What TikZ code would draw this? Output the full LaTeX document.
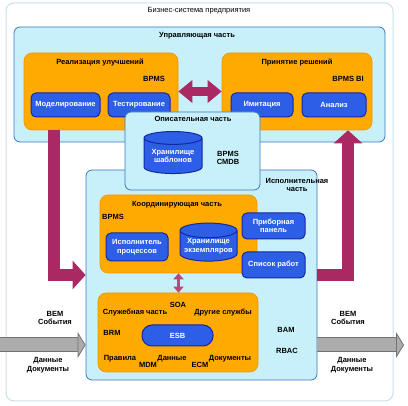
\documentclass[tikz,border=0pt]{standalone}
\usepackage{fontspec}
\setmainfont{Liberation Sans}
\usetikzlibrary{arrows.meta,shapes.geometric}

\definecolor{orng}{RGB}{255,170,0}
\definecolor{orngline}{RGB}{240,150,0}
\definecolor{cyanfill}{RGB}{200,240,250}
\definecolor{cyanline}{RGB}{60,120,190}
\definecolor{bluefill}{RGB}{45,95,230}
\definecolor{blueline}{RGB}{20,40,160}
\definecolor{plum}{RGB}{170,40,100}
\definecolor{outerline}{RGB}{200,225,235}

\begin{document}
\begin{tikzpicture}[x=1pt,y=-1pt,
    font=\fontsize{7.5}{8.5}\selectfont\bfseries,
    area/.style={draw=cyanline, fill=cyanfill, line width=0.8pt, rounded corners=6pt, inner sep=0pt},
    part/.style={draw=orngline, fill=orng, line width=0.6pt, rounded corners=8pt, inner sep=0pt},
    tool/.style={draw=blueline, fill=bluefill, line width=1pt, rounded corners=5pt, text=white, align=center, inner sep=0pt},
    store/.style={cylinder, shape border rotate=90, aspect=0.3, draw=blueline, fill=bluefill, line width=1pt, text=white, align=center, inner sep=0pt},
    flow/.style={draw=plum, line width=12pt, -{Triangle[width=28pt,length=13pt]}},
    swap/.style={draw=plum, line width=9pt, {Triangle[width=22pt,length=14pt]}-{Triangle[width=22pt,length=14pt]}},
    feed/.style={draw=gray!65, line width=13pt,
        preaction={draw=black!55, line width=15pt, shorten >=7pt, arrows=-},
        -{Triangle[width=26pt,length=8pt,color=black!55,fill=gray!65,line width=0.8pt]}},
    note/.style={align=center, inner sep=0pt}]

    \useasboundingbox (0,0) rectangle (408,406);

    % outer frame
    \node[draw=outerline, fill=white, line width=1pt, rounded corners=8pt, minimum width=387pt, minimum height=398pt] (biz) at (199.5,202) {};
    \node[note, font=\fontsize{7.5}{8.5}\selectfont] (bizt) at (199,11) {Бизнес-система предприятия};

    % control part
    \node[area, minimum width=371pt, minimum height=115pt] (ctrl) at (199.5,84.5) {};
    \node[note] (ctrlt) at (197,36) {Управляющая часть};

    \node[part, minimum width=154pt, minimum height=77pt] (impr) at (101,91.5) {};
    \node[note] (imprt) at (100,62) {Реализация улучшений};
    \node[note] (imprb) at (154,79) {BPMS};
    \node[tool, minimum width=69pt, minimum height=24pt] (model) at (65.5,105) {Моделирование};
    \node[tool, minimum width=62pt, minimum height=24pt] (test) at (139,105) {Тестирование};

    \node[part, minimum width=150pt, minimum height=77pt] (dec) at (297,91.5) {};
    \node[note] (dect) at (297,62) {Принятие решений};
    \node[note] (decb) at (348,79) {BPMS BI};
    \node[tool, minimum width=62pt, minimum height=24pt] (sim) at (262,105) {Имитация};
    \node[tool, minimum width=64pt, minimum height=24pt] (anal) at (334,105) {Анализ};

    \draw[swap] (impr.east) -- (dec.west);

    % executive part
    \node[area, minimum width=231pt, minimum height=210pt] (exec) at (201.5,275) {};
    \node[note] (exect) at (297,185) {Исполнительная\\часть};

    \node[part, minimum width=157pt, minimum height=78pt] (coord) at (178.5,234) {};
    \node[note] (coordt) at (177,205) {Координирующая часть};
    \node[note] (coordb) at (113,217) {BPMS};
    \node[tool, minimum width=62pt, minimum height=28pt] (engine) at (137,247) {Исполнитель\\процессов};
    \node[store, minimum width=57pt, minimum height=38pt] (inst) at (208.5,246) {Хранилище\\экземпляров};
    \node[tool, minimum width=63pt, minimum height=26pt] (dash) at (273.5,226) {Приборная\\панель};
    \node[tool, minimum width=63pt, minimum height=26pt] (work) at (273.5,265) {Список работ};

    \node[part, minimum width=160pt, minimum height=79pt] (serv) at (178,332.5) {};
    \node[tool, rounded corners=10pt, minimum width=71pt, minimum height=21pt] (esb) at (177.5,335.5) {ESB};
    \node[note] (soa) at (178,305) {SOA};
    \node[note] (servt) at (135,313) {Служебная часть};
    \node[note] (other) at (223,313) {Другие службы};
    \node[note] (brm) at (112,333) {BRM};
    \node[note] (rules) at (120,359) {Правила};
    \node[note] (mdm) at (148,365) {MDM};
    \node[note] (data) at (172,359) {Данные};
    \node[note] (ecm) at (200,365) {ECM};
    \node[note] (docs) at (230,359) {Документы};
    \node[note] (bam) at (286,330) {BAM};
    \node[note] (rbac) at (287,351) {RBAC};

    \draw[draw=plum!85, line width=3pt, {Triangle[width=10pt,length=6pt]}-{Triangle[width=10pt,length=6pt]}] (coord.south) -- (coord.south |- serv.north);

    % feedback loop
    \draw[flow] ([xshift=-47pt]impr.south) |- (exec.west);
    \draw[flow] (exec.east) -| ([xshift=51pt]dec.south);

    % descriptive part
    \node[area, minimum width=135pt, minimum height=78pt] (descr) at (192.5,151) {};
    \node[note] (descrt) at (193,119) {Описательная часть};
    \node[store, minimum width=58pt, minimum height=42pt] (tmpl) at (173,156) {Хранилище\\шаблонов};
    \node[note] (cmdb) at (228,158) {BPMS\\CMDB};

    % inputs and outputs
    \coordinate (src) at (0,345);
    \coordinate (dst) at (404,345);
    \draw[feed] (src) -- (exec.west |- src);
    \draw[feed] (exec.east |- dst) -- (dst);
    \node[note] (inev) at (55,318) {BEM\\События};
    \node[note] (indoc) at (48,365) {Данные\\Документы};
    \node[note] (outev) at (348,318) {BEM\\События};
    \node[note] (outdoc) at (352,365) {Данные\\Документы};

\end{tikzpicture}
\end{document}
